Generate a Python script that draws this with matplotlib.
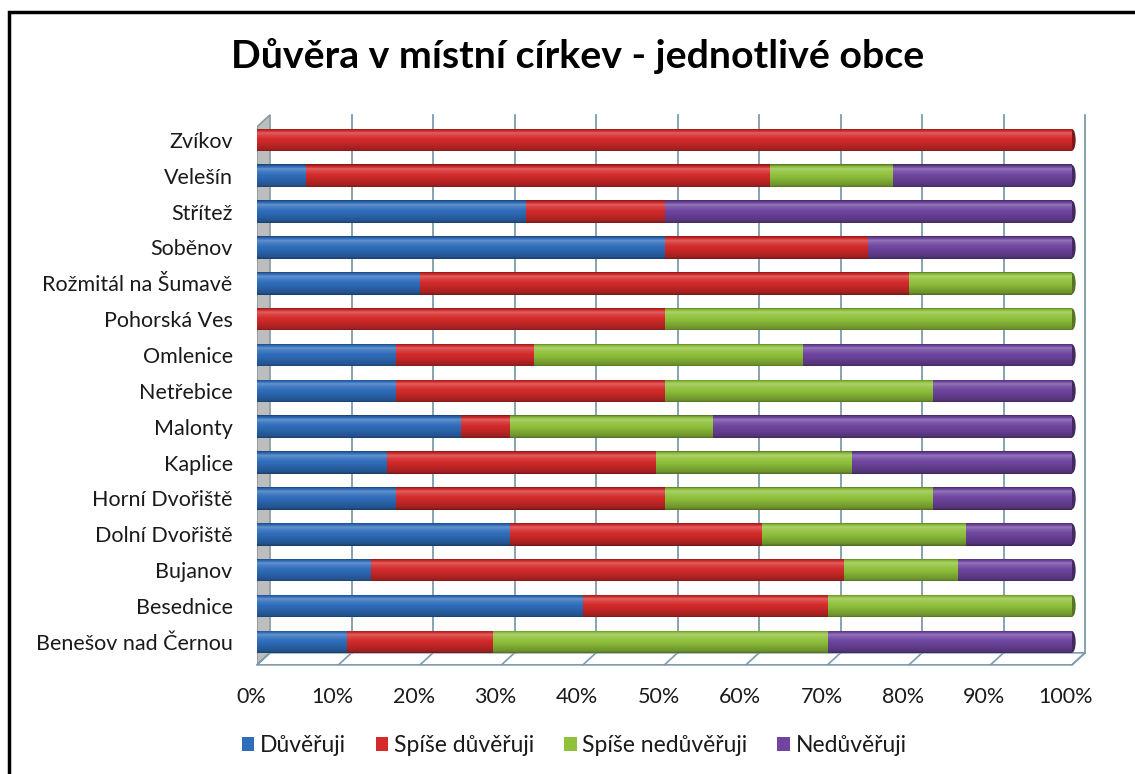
import matplotlib
matplotlib.use("Agg")
import matplotlib.pyplot as plt
from matplotlib.patches import Polygon, Rectangle, Ellipse
from matplotlib.path import Path
from matplotlib.colors import to_rgb
from matplotlib.transforms import ScaledTranslation
import numpy as np

plt.rcParams['font.family'] = ['Lato', 'DejaVu Sans']

obce = ["Benešov nad Černou", "Besednice", "Bujanov", "Dolní Dvořiště",
        "Horní Dvořiště", "Kaplice", "Malonty", "Netřebice", "Omlenice",
        "Pohorská Ves", "Rožmitál na Šumavě", "Soběnov", "Střítež",
        "Velešín", "Zvíkov"]
duveruji = [11, 40, 14, 31, 17, 16, 25, 17, 17, 0, 20, 50, 33, 6, 0]
spise_duveruji = [18, 30, 58, 31, 33, 33, 6, 33, 17, 50, 60, 25, 17, 57, 100]
spise_neduveruji = [41, 30, 14, 25, 33, 24, 25, 33, 33, 50, 20, 0, 0, 15, 0]
neduveruji = [30, 0, 14, 13, 17, 27, 44, 17, 33, 0, 0, 25, 50, 22, 0]
series_names = ["Důvěřuji", "Spíše důvěřuji", "Spíše nedůvěřuji", "Nedůvěřuji"]
x_ticks = [0, 10, 20, 30, 40, 50, 60, 70, 80, 90, 100]
x_tick_labels = ["0%", "10%", "20%", "30%", "40%", "50%", "60%", "70%", "80%", "90%", "100%"]

colors = ["#2f6dbb", "#d42a2a", "#8fc13b", "#6f45a0"]

W, H = 1135, 774
fig = plt.figure(figsize=(W / 100, H / 100), dpi=100)
fig.patch.set_facecolor("white")

ax = fig.add_axes([257 / W, (H - 672) / H, (1072 - 257) / W, (672 - 108) / H])
ax.set_xlim(0, 100)
ylo, yhi = -0.84, 14.89
ax.set_ylim(ylo, yhi)
for s in ax.spines.values():
    s.set_visible(False)
ax.set_facecolor("none")

dx, dy = 1.6, 0.335
y_front_floor = -0.64
y_back_floor = y_front_floor + dy
y_top = 14.70
grid_c = "#7d9bab"

ax.add_patch(Polygon([(0, y_front_floor), (0, y_top - dy), (dx, y_top), (dx, y_back_floor)],
                     closed=True, fc="#bdbdbd", ec="#8a9aa4", lw=1.2, zorder=1))
ax.add_patch(Polygon([(0, y_front_floor), (100, y_front_floor), (100 + dx, y_back_floor), (dx, y_back_floor)],
                     closed=True, fc="white", ec=grid_c, lw=1.2, zorder=1, clip_on=False))
for t in x_ticks:
    if t > 0:
        ax.plot([t + dx, t + dx], [y_back_floor, y_top], color=grid_c, lw=1.3, zorder=1, clip_on=False)
    ax.plot([t + dx, t], [y_back_floor, y_front_floor], color=grid_c, lw=1.2, zorder=1, clip_on=False)

y = np.arange(len(obce))
h = 0.63
data = [duveruji, spise_duveruji, spise_neduveruji, neduveruji]

ny = 1600
yy = np.linspace(yhi, ylo, ny)
frac = (yy - (np.round(yy) - h / 2)) / h
frac = np.clip(frac, 0, 1)
fac = np.interp(frac, [0, 0.08, 0.45, 0.72, 0.82, 0.93, 1.0],
                [0.55, 0.75, 0.97, 1.06, 1.12, 0.95, 0.62])

left = np.zeros(len(obce))
last_color = [None] * len(obce)
for vals, c, name in zip(data, colors, series_names):
    vals = np.array(vals, dtype=float)
    bars = ax.barh(y, vals, left=left, height=h, color=c, edgecolor="none", zorder=3, label=name)
    rgb = np.array(to_rgb(c))
    img = np.empty((ny, 1, 3))
    for i in range(ny):
        f = fac[i]
        if f <= 1:
            img[i, 0] = rgb * f
        else:
            img[i, 0] = rgb + (1 - rgb) * (f - 1) * 2.2
    img = np.clip(img, 0, 1)
    im = ax.imshow(img, extent=(0, 100, ylo, yhi), aspect="auto", zorder=4,
                   interpolation="bilinear")
    paths = [b.get_path().transformed(b.get_patch_transform()) for b in bars if b.get_width() > 0]
    comp = Path.make_compound_path(*paths)
    im.set_clip_path(comp, transform=ax.transData)
    for k, v in enumerate(vals):
        if v > 0:
            last_color[k] = rgb
    left += vals

# rounded end caps of the bars
for k, tot in enumerate(left):
    ax.add_patch(Ellipse((tot, y[k]), 0.9, h * 0.96, fc=tuple(last_color[k] * 0.6),
                         ec="none", zorder=2.5, clip_on=False))

ax.set_xlim(0, 100)
ax.set_ylim(ylo, yhi)
ax.set_yticks(y)
ax.set_yticklabels(obce, fontsize=15.5, color="#1a1a1a")
ax.tick_params(axis="y", length=0, pad=17.5)
ax.set_xticks(x_ticks)
ax.set_xticklabels(x_tick_labels, fontsize=15.5, color="#1a1a1a")
ax.tick_params(axis="x", length=0, pad=11)
off = ScaledTranslation(-6 / 100, 0, fig.dpi_scale_trans)
for lab in ax.get_xticklabels():
    lab.set_transform(lab.get_transform() + off)

fig.text(578 / W, 1 - 56 / H, "Důvěra v místní církev - jednotlivé obce",
         ha="center", va="center", fontsize=28.3, fontweight="bold", color="black")

handles, labels = ax.get_legend_handles_labels()
leg = fig.legend(handles, labels, loc="center", bbox_to_anchor=(574 / W, 1 - 746 / H),
                 ncol=4, frameon=False, fontsize=16.5, handlelength=0.55, handleheight=0.55,
                 handletextpad=0.25, columnspacing=1.3)
for t in leg.get_texts():
    t.set_color("#1a1a1a")

fig.add_artist(Rectangle((9 / W, -0.1), 1.2, (H - 12) / H + 0.1, transform=fig.transFigure,
                         fill=False, ec="black", lw=2.5))

fig.savefig("out.png", dpi=100, facecolor="white")
